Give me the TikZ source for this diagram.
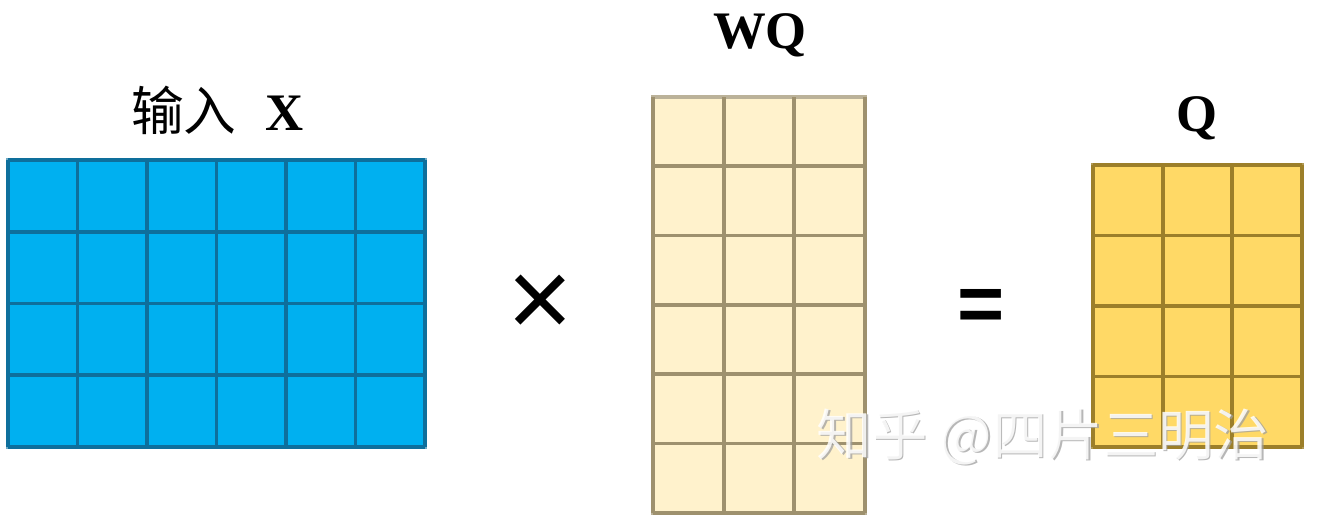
\documentclass[tikz,border=0pt]{standalone}
\usepackage{fontspec}
\setmainfont{Liberation Serif}
\newfontfamily\cjk{Noto Sans CJK SC}
\newfontfamily\symfont{Liberation Sans}
\definecolor{xfill}{HTML}{00B0F0}
\definecolor{xline}{HTML}{0E6F9C}
\definecolor{wfill}{HTML}{FFF2CC}
\definecolor{wline}{HTML}{9E916E}
\definecolor{qfill}{HTML}{FFD966}
\definecolor{qline}{HTML}{9C7F2A}
\tikzset{
  mlabel/.style={font=\bfseries\fontsize{30}{36}\selectfont, inner sep=0pt},
  opsign/.style={font=\symfont\fontsize{64}{70}\selectfont, inner sep=0pt},
  cellgrid/.style={line width=2.1pt},
  markfont/.style={font=\cjk\fontsize{31.5}{34}\selectfont}
}

\begin{document}
\begin{tikzpicture}
			%%%%% START %%%%%
			\useasboundingbox (0,0) rectangle (26.4,10.42);
			
			% input X, 4 x 6
			\draw[fill=xfill, draw=xline!60, line width=2pt] (0.16,1.48) rectangle (8.5,7.22);
			\draw[cellgrid, xline, shift={(0.16,1.48)}] (0,0) grid[xstep=1.39,ystep=1.435] (8.34,5.74);
			\node[mlabel] (xlab) at (4.35,8.22) {{\cjk\mdseries 输入}\hspace{0.55em}X};
			
			\node[opsign] (times) at (10.8,4.3) {×};
			
			% WQ, 6 x 3
			\draw[fill=wfill, draw=wline!70, line width=2pt] (13.06,0.16) rectangle (17.3,8.48);
			\draw[cellgrid, wline, shift={(13.06,0.16)}] (0,0) grid[xstep=1.413,ystep=1.387] (4.24,8.32);
			\node[mlabel] (wqlab) at (15.2,9.72) {WQ};
			
			\node[opsign, font=\symfont\bfseries\fontsize{46}{50}\selectfont] (equals) at (19.63,4.22) {=};
			
			% Q, 4 x 3
			\draw[fill=qfill, draw=qline!80, line width=2pt] (21.86,1.48) rectangle (26.04,7.12);
			\draw[cellgrid, qline, shift={(21.86,1.48)}] (0,0) grid[xstep=1.393,ystep=1.41] (4.18,5.64);
			\node[mlabel] (qlab) at (23.94,8.06) {Q};
			
			% watermark
			\node[markfont, text=gray!75, opacity=0.75] (markshade) at (20.89,1.65) {知乎 @四片三明治};
			\node[markfont, text=white, opacity=0.85] (mark) at (20.86,1.68) {知乎 @四片三明治};
			
			%%%%% END %%%%%
\end{tikzpicture}
\end{document}
